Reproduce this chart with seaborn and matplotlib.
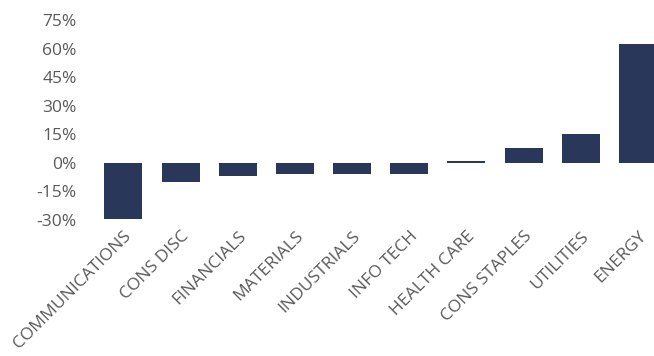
import matplotlib
matplotlib.use("Agg")
import matplotlib.pyplot as plt
import seaborn as sns
import pandas as pd
from matplotlib.ticker import FuncFormatter

categories = ["COMMUNICATIONS", "CONS DISC", "FINANCIALS", "MATERIALS", "INDUSTRIALS",
              "INFO TECH", "HEALTH CARE", "CONS STAPLES", "UTILITIES", "ENERGY"]
values = [-29.5, -10.0, -7.0, -6.0, -6.0, -6.0, 0.9, 8.0, 15.2, 62.5]
yticks = [-30, -15, 0, 15, 30, 45, 60, 75]

sns.set_style("white")
plt.rcParams["font.family"] = ["Open Sans", "DejaVu Sans"]

df = pd.DataFrame({"sector": categories, "ret": values})

fig = plt.figure(figsize=(6.54, 3.56), dpi=100)
ax = fig.add_axes([0.1451, 0.382, 0.874, 0.5618])
sns.barplot(data=df, x="sector", y="ret", color="#29385A", saturation=1,
            width=0.665, ax=ax, edgecolor="none")
ax.set_xlim(-0.5, 9.5)
ax.set_ylim(-30, 75)
ax.set_yticks(yticks)
ax.yaxis.set_major_formatter(FuncFormatter(lambda v, p: f"{v:.0f}%"))
ax.set_xlabel("")
ax.set_ylabel("")
for s in ax.spines.values():
    s.set_visible(False)
ax.tick_params(axis="y", length=0, pad=13, labelsize=12.5, labelcolor="#595959")
ax.tick_params(axis="x", length=0, pad=6, labelsize=12.5, labelcolor="#595959")
plt.setp(ax.get_xticklabels(), rotation=45, ha="right", rotation_mode="anchor")
fig.savefig("out.png", dpi=100)
